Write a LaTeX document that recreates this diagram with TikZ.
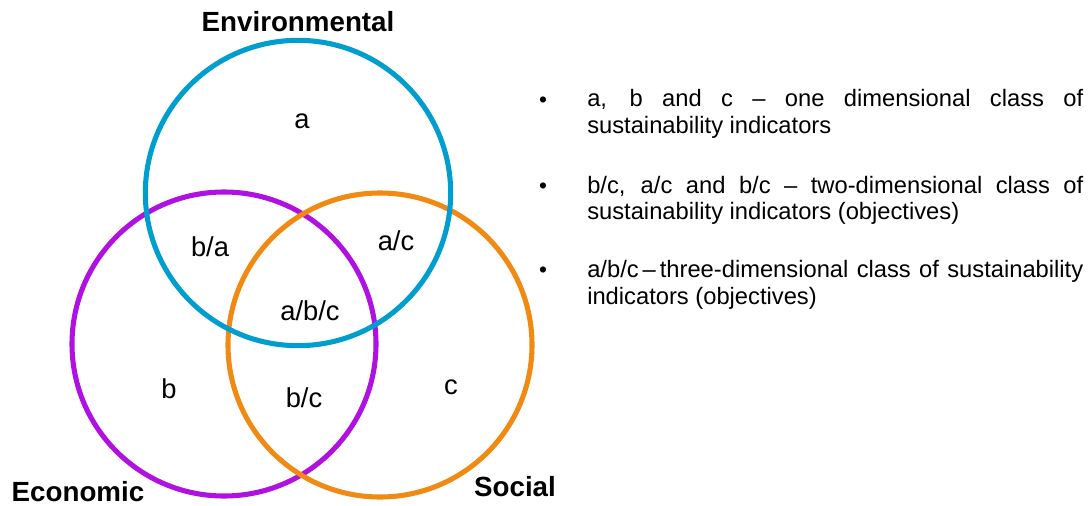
\documentclass[tikz,border=0pt]{standalone}
\usepackage{fontspec}
\setmainfont{Liberation Sans}
\usetikzlibrary{positioning}
\definecolor{envblue}{RGB}{0,158,206}
\definecolor{ecopurple}{RGB}{176,16,224}
\definecolor{socorange}{RGB}{240,138,18}
\hyphenpenalty=10000
\tikzset{
    ring/.style={line width=3.8pt},
    zone/.style={font=\fontsize{20.5}{24}\selectfont},
    pillar/.style={inner sep=0pt, font=\bfseries\fontsize{20.8}{24}\selectfont},
    bullet/.style={font=\fontsize{17}{20}\selectfont},
    itemtext/.style={anchor=base west, inner sep=0pt, text width=372pt, align=justify,
        font=\fontsize{17.8}{20.25}\selectfont}
}
\begin{document}
\begin{tikzpicture}[x=0.75pt,y=-0.75pt]
    \useasboundingbox (0,0) rectangle (1088,506);
    % three pillars
    \coordinate (Menv) at (298,193);
    \coordinate (Meco) at (224,344);
    \coordinate (Msoc) at (380,345);
    \draw[ring,ecopurple] (Meco) circle (114pt);
    \draw[ring,socorange] (Msoc) circle (114pt);
    \draw[ring,envblue] (Menv) circle (114.5pt);
    \node[pillar] (env) at (298,22) {Environmental};
    \node[pillar] (eco) at (78,492) {Economic};
    \node[pillar] (soc) at (515,487) {Social};
    % the regions
    \node[zone] (a) at (302,121) {a};
    \node[zone] (ba) at (210,247) {b/a};
    \node[zone] (ac) at (396,241) {a/c};
    \node[zone] (abc) at (310,311) {a/b/c};
    \node[zone] (b) at (169,389) {b};
    \node[zone] (bc) at (304,398) {b/c};
    \node[zone] (c) at (451,387) {c};
    % legend
    \node[bullet] (dot1) at (543,102) {•};
    \node[bullet] (dot2) at (543,188) {•};
    \node[bullet] (dot3) at (543,272) {•};
    \node[itemtext] (item1) at (587,107) {a, b and c -- one dimensional class of\linebreak sustainability indicators};
    \node[itemtext] (item2) at (587,193) {b/c, a/c and b/c -- two-dimensional class of\linebreak sustainability indicators (objectives)};
    \node[itemtext] (item3) at (587,277) {a/b/c\,--\,three-dimensional class of sustainability\linebreak indicators (objectives)};
\end{tikzpicture}
\end{document}
